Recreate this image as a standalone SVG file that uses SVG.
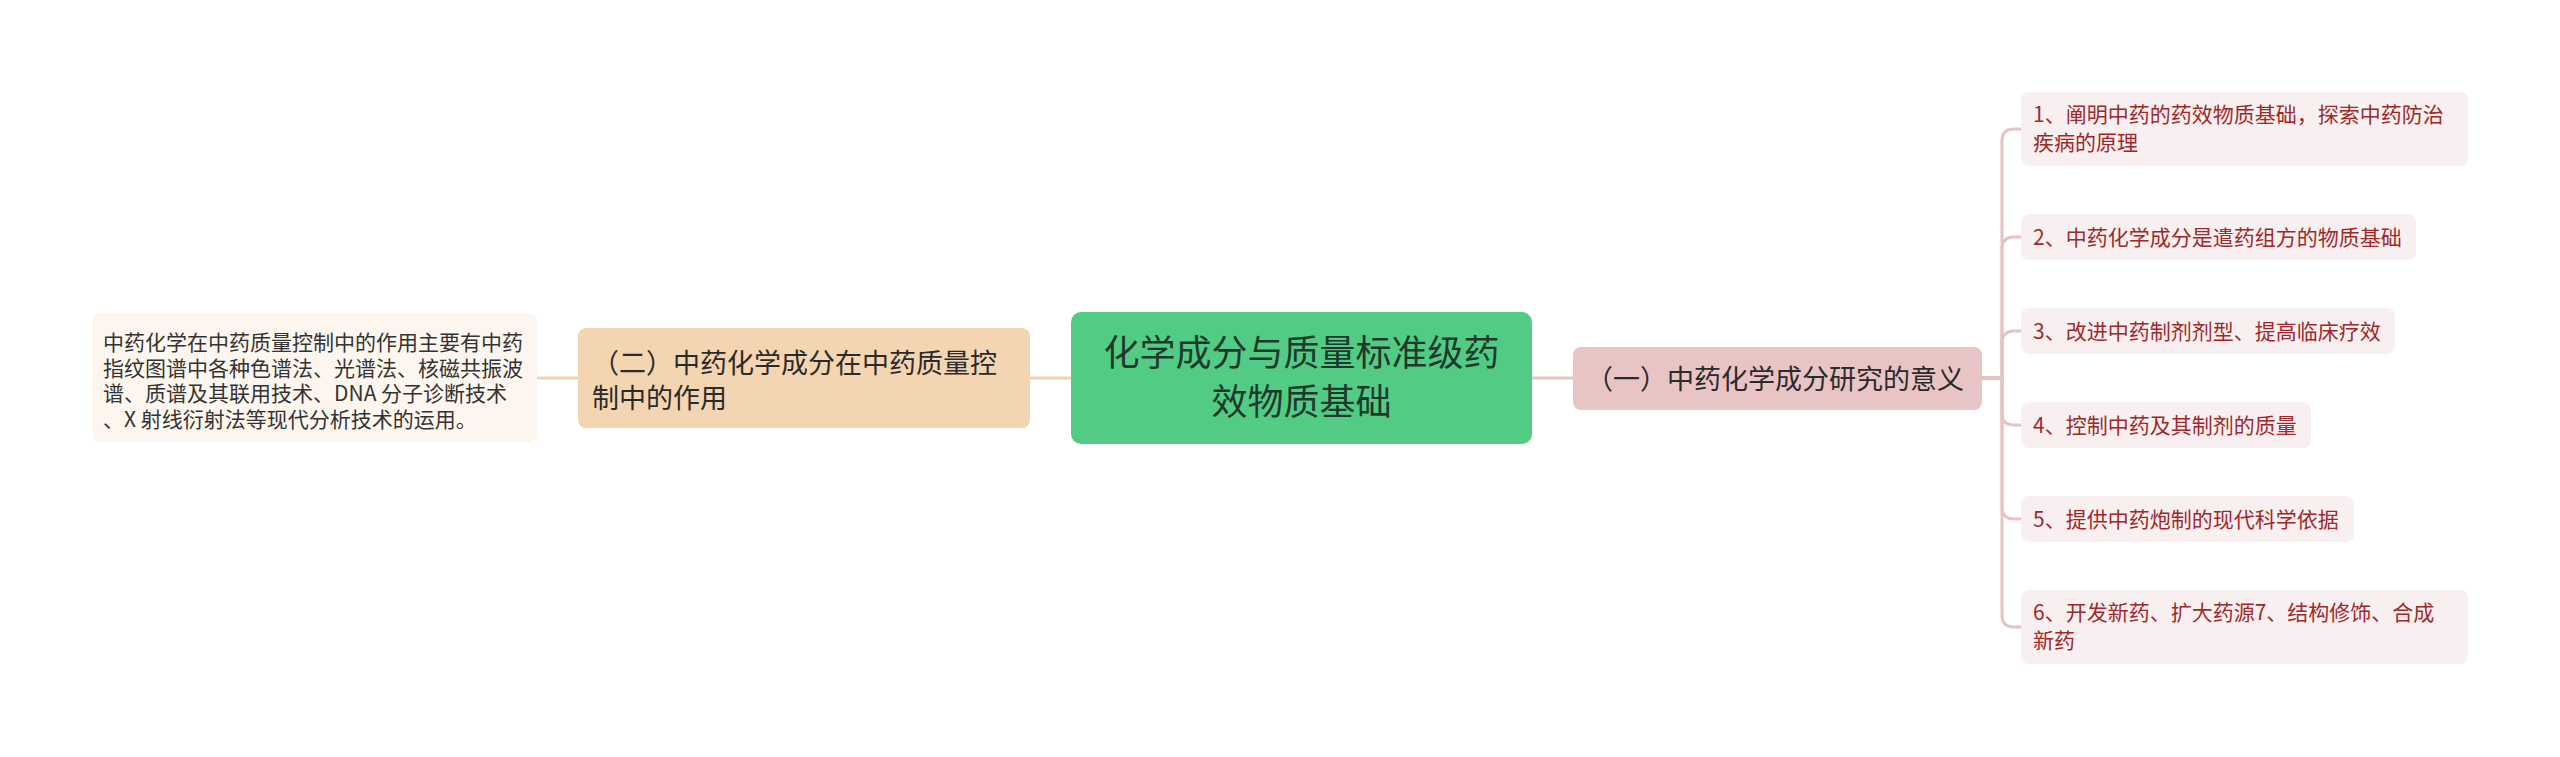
<svg xmlns="http://www.w3.org/2000/svg" width="2560" height="757" viewBox="0 0 2560 757">
<style>
text{font-family:"Noto Sans CJK SC","Noto Sans",sans-serif}
.root{fill:#52cc84}
.rootT{font-size:36px;fill:#1f3a2c}
.sub2{fill:#f3d5b1}
.sub1{fill:#e8c4c4}
.subT{font-size:27px;fill:#2b2b2b}
.leafL{fill:#fdf6ee}
.leafLT{font-size:21px;fill:#333333}
.leafR{fill:#f8f0f0}
.leafRT{font-size:21px;fill:#a0282a}
.cl{fill:none;stroke:#f0d3b6;stroke-width:3}
.cr{fill:none;stroke:#e6c4c4;stroke-width:3}
</style>
<rect width="2560" height="757" fill="#ffffff"/>
<g id="connectors">
<path class="cl" d="M1071 378 H1030"/>
<path class="cl" d="M578 378 H537"/>
<path class="cr" d="M1532 378 H1573"/>
<path class="cr" d="M1982 378 H2002 V141 Q2002 129 2014 129 H2021"/>
<path class="cr" d="M1982 378 H2002 V249 Q2002 237 2014 237 H2021"/>
<path class="cr" d="M1982 378 H2002 V343 Q2002 331 2014 331 H2021"/>
<path class="cr" d="M1982 378 H2002 V413 Q2002 425 2014 425 H2021"/>
<path class="cr" d="M1982 378 H2002 V507 Q2002 519 2014 519 H2021"/>
<path class="cr" d="M1982 378 H2002 V615 Q2002 627 2014 627 H2021"/>
</g>
<g id="root">
<rect class="root" x="1071" y="312" width="461" height="132" rx="10"/>
<text class="rootT" text-anchor="middle"><tspan x="1301.5" y="366">化学成分与质量标准级药</tspan><tspan x="1301.5" y="415">效物质基础</tspan></text>
</g>
<g id="node-2">
<rect class="sub2" x="578" y="328" width="452" height="100" rx="8"/>
<text class="subT"><tspan x="592" y="373">（二）中药化学成分在中药质量控</tspan><tspan x="592" y="408">制中的作用</tspan></text>
</g>
<g id="leaf-2-1">
<rect class="leafL" x="92" y="313" width="445" height="129" rx="8"/>
<text class="leafLT"><tspan x="103" y="350">中药化学在中药质量控制中的作用主要有中药</tspan><tspan x="103" y="375.5">指纹图谱中各种色谱法、光谱法、核磁共振波</tspan><tspan x="103" y="401">谱、质谱及其联用技术、DNA 分子诊断技术</tspan><tspan x="103" y="426.5">、X 射线衍射法等现代分析技术的运用。</tspan></text>
</g>
<g id="node-1">
<rect class="sub1" x="1573" y="347" width="409" height="63" rx="8"/>
<text class="subT" x="1586" y="389">（一）中药化学成分研究的意义</text>
</g>
<g id="leaf-1-1">
<rect class="leafR" x="2021" y="92" width="447" height="74" rx="8"/>
<text class="leafRT"><tspan x="2033" y="122">1、阐明中药的药效物质基础，探索中药防治</tspan><tspan x="2033" y="150">疾病的原理</tspan></text>
</g>
<g id="leaf-1-2">
<rect class="leafR" x="2021" y="214" width="395" height="46" rx="8"/>
<text class="leafRT" x="2033" y="244.5">2、中药化学成分是遣药组方的物质基础</text>
</g>
<g id="leaf-1-3">
<rect class="leafR" x="2021" y="308" width="374" height="46" rx="8"/>
<text class="leafRT" x="2033" y="338.5">3、改进中药制剂剂型、提高临床疗效</text>
</g>
<g id="leaf-1-4">
<rect class="leafR" x="2021" y="402" width="290" height="46" rx="8"/>
<text class="leafRT" x="2033" y="432.5">4、控制中药及其制剂的质量</text>
</g>
<g id="leaf-1-5">
<rect class="leafR" x="2021" y="496" width="333" height="46" rx="8"/>
<text class="leafRT" x="2033" y="526.5">5、提供中药炮制的现代科学依据</text>
</g>
<g id="leaf-1-6">
<rect class="leafR" x="2021" y="590" width="447" height="74" rx="8"/>
<text class="leafRT"><tspan x="2033" y="620">6、开发新药、扩大药源7、结构修饰、合成</tspan><tspan x="2033" y="648">新药</tspan></text>
</g>
</svg>
